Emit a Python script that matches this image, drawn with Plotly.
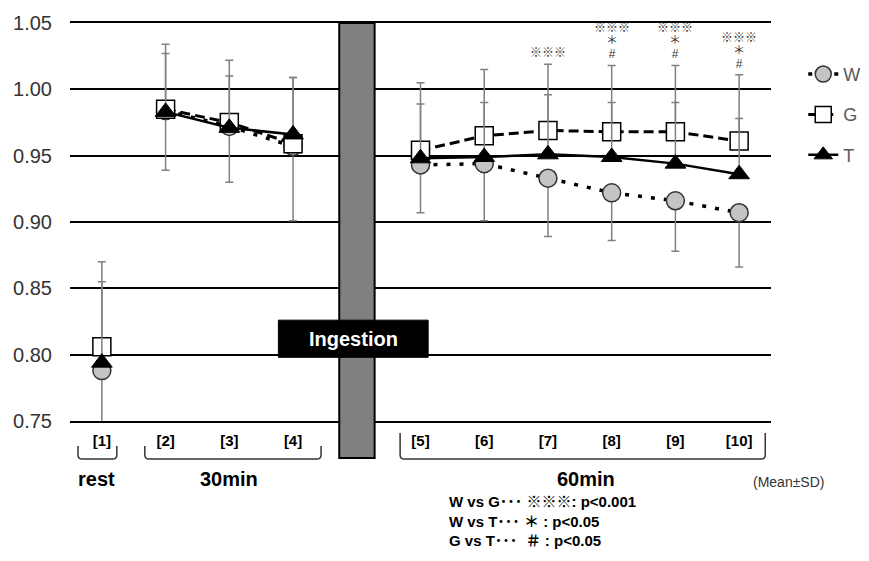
import plotly.graph_objects as go

# ---------------- data ----------------
labels = ["[1]", "[2]", "[3]", "[4]", "[5]", "[6]", "[7]", "[8]", "[9]", "[10]"]
positions = [1, 2, 3, 4, 6, 7, 8, 9, 10, 11]   # slot 5 is the ingestion bar
groups = [[0], [1, 2, 3], [4, 5, 6, 7, 8, 9]]   # rest / 30min / 60min

W = [0.788, 0.984, 0.972, 0.957, 0.943, 0.944, 0.933, 0.922, 0.916, 0.907]
G = [0.806, 0.985, 0.975, 0.959, 0.954, 0.965, 0.969, 0.968, 0.968, 0.961]
T = [0.794, 0.983, 0.971, 0.966, 0.948, 0.949, 0.951, 0.949, 0.944, 0.936]

W_sd = [0.070, 0.045, 0.042, 0.056, 0.036, 0.043, 0.044, 0.036, 0.038, 0.041]  # drawn downward
G_sd = [0.064, 0.049, 0.047, 0.050, 0.051, 0.050, 0.050, 0.050, 0.050, 0.050]  # drawn upward
T_sd = [0.061, 0.044, 0.039, 0.043, 0.041, 0.041, 0.045, 0.041, 0.046, 0.042]  # drawn upward

sig = {6: ["※※※"], 7: ["※※※", "＊", "#"], 8: ["※※※", "＊", "#"], 9: ["※※※", "＊", "#"]}

group_names = ["rest", "30min", "60min"]
y_ticks = [0.75, 0.80, 0.85, 0.90, 0.95, 1.00, 1.05]

FONT = "Liberation Sans, Arial, sans-serif"
MIXED = "Liberation Sans, Noto Sans CJK JP, sans-serif"
X_MIN, X_MAX = 0.5, 11.5


def xp(d):
    return (d - X_MIN) / (X_MAX - X_MIN)


def broken(values):
    xs, ys = [], []
    for gi, g in enumerate(groups):
        if gi:
            xs.append(None)
            ys.append(None)
        for i in g:
            xs.append(positions[i])
            ys.append(values[i])
    return xs, ys


def broken_err(values):
    out = []
    for gi, g in enumerate(groups):
        if gi:
            out.append(None)
        out.extend(values[i] for i in g)
    return out


def zeros_like(lst):
    return [0 if v is not None else None for v in lst]


fig = go.Figure()
ERR_COLOR = "#808080"

xw, yw = broken(W)
fig.add_trace(go.Scatter(
    x=xw, y=yw, name="W", mode="lines+markers", legendgroup="W",
    line=dict(color="black", width=3.5, dash="4px,9px"),
    marker=dict(symbol="circle", size=18, color="#c4c4c4", line=dict(color="#333333", width=1.5)),
    error_y=dict(type="data", symmetric=False, array=zeros_like(broken_err(W_sd)),
                 arrayminus=broken_err(W_sd), color=ERR_COLOR, thickness=1.5, width=4),
))
xg, yg = broken(G)
fig.add_trace(go.Scatter(
    x=xg, y=yg, name="G", mode="lines+markers", legendgroup="G",
    line=dict(color="black", width=3, dash="10px,5px"),
    marker=dict(symbol="square", size=18, color="white", line=dict(color="black", width=1.5)),
    error_y=dict(type="data", symmetric=False, array=broken_err(G_sd),
                 arrayminus=zeros_like(broken_err(G_sd)), color=ERR_COLOR, thickness=1.5, width=4),
))
xt, yt = broken(T)
fig.add_trace(go.Scatter(
    x=xt, y=yt, name="T", mode="lines+markers", legendgroup="T",
    line=dict(color="black", width=2.5),
    marker=dict(symbol="triangle-up", size=18, color="black", line=dict(color="black", width=1)),
    error_y=dict(type="data", symmetric=False, array=broken_err(T_sd),
                 arrayminus=zeros_like(broken_err(T_sd)), color=ERR_COLOR, thickness=1.5, width=4),
))

shapes = []
# ingestion bar (extends below the axis)
shapes.append(dict(type="rect", xref="paper", yref="paper", x0=xp(4.725), x1=xp(5.28),
                   y0=-0.093, y1=1.0, fillcolor="#808080", line=dict(color="black", width=2), layer="above"))
# ingestion label box
shapes.append(dict(type="rect", xref="x", yref="y", x0=3.77, x1=6.12, y0=0.798, y1=0.826,
                   fillcolor="black", line=dict(color="black", width=1), layer="above"))

# brackets below the tick labels
bracket_spans = [(0.625, 1.235, -0.063), (1.674, 4.44, -0.063), (5.68, 11.41, -0.030)]
yb = -0.0955
rx, ry = 0.006, 0.011
for x0d, x1d, ytop in bracket_spans:
    a, b = xp(x0d), xp(x1d)
    path = (f"M {a},{ytop} L {a},{yb + ry} Q {a},{yb} {a + rx},{yb} "
            f"L {b - rx},{yb} Q {b},{yb} {b},{yb + ry} L {b},{ytop}")
    shapes.append(dict(type="path", xref="paper", yref="paper", path=path,
                       line=dict(color="#333333", width=1.5)))

annotations = []
annotations.append(dict(x=4.95, y=0.812, xref="x", yref="y", text="<b>Ingestion</b>", showarrow=False,
                        font=dict(family=FONT, size=20, color="white")))

# significance marks above the error bars (base size 10 keeps the line spacing tight)
for i, lines in sig.items():
    top = G[i] + G_sd[i]
    parts = [f"<span style='font-size:12px'>{s}</span>" for s in lines]
    annotations.append(dict(x=positions[i], y=top, xref="x", yref="y", text="<br>".join(parts),
                            showarrow=False, xanchor="center", yanchor="bottom", yshift=2,
                            font=dict(family=MIXED, size=10, color="#333333")))

# group labels
group_centers = [0.92, 3.0, 8.6]
for name, cx in zip(group_names, group_centers):
    annotations.append(dict(x=xp(cx), y=-0.146, xref="paper", yref="paper", text=f"<b>{name}</b>",
                            showarrow=False, xanchor="center", yanchor="middle",
                            font=dict(family=FONT, size=20, color="black")))

annotations.append(dict(x=1.0256, y=-0.153, xref="paper", yref="paper", text="(Mean±SD)", showarrow=False,
                        xanchor="center", yanchor="middle",
                        font=dict(family=FONT, size=14, color="#333333")))

annotations.append(dict(x=0.5377, y=-0.176, xref="paper", yref="paper", xanchor="left", yanchor="top",
                        align="left", showarrow=False,
                        text="<b>W vs G･･･ ※※※: p&lt;0.001<br>W vs T･･･ ＊ : p&lt;0.05<br>G vs T･･･  ＃ : p&lt;0.05</b>",
                        font=dict(family=MIXED, size=15, color="black")))

# the page body adds an 8px offset; margins compensate so the plot area sits at 70..773 x 23..421
fig.update_layout(
    width=869, height=561,
    margin=dict(l=62, r=104, t=15, b=148),
    paper_bgcolor="white", plot_bgcolor="white",
    showlegend=True,
    legend=dict(x=1.046, y=0.9175, xanchor="left", yanchor="top", tracegroupgap=14,
                traceorder="grouped", font=dict(family=FONT, size=18, color="#595959"),
                bgcolor="rgba(0,0,0,0)"),
    xaxis=dict(range=[X_MIN, X_MAX], tickvals=positions, ticktext=[f"<b>{l}</b>" for l in labels],
               automargin=False,
               showgrid=False, zeroline=False, showline=True, mirror=True, linecolor="black", linewidth=1.5,
               ticks="", ticklabelstandoff=5, tickfont=dict(family=FONT, size=15, color="black")),
    yaxis=dict(range=[0.75, 1.05], tickvals=y_ticks, ticktext=[f"{v:.2f}" for v in y_ticks],
               automargin=False,
               showgrid=True, gridcolor="black", gridwidth=1.5, zeroline=False, showline=False,
               ticks="", ticklabelstandoff=17, tickfont=dict(family=FONT, size=20, color="#333333")),
    shapes=shapes,
    annotations=annotations,
)

fig.write_html("out.html")
